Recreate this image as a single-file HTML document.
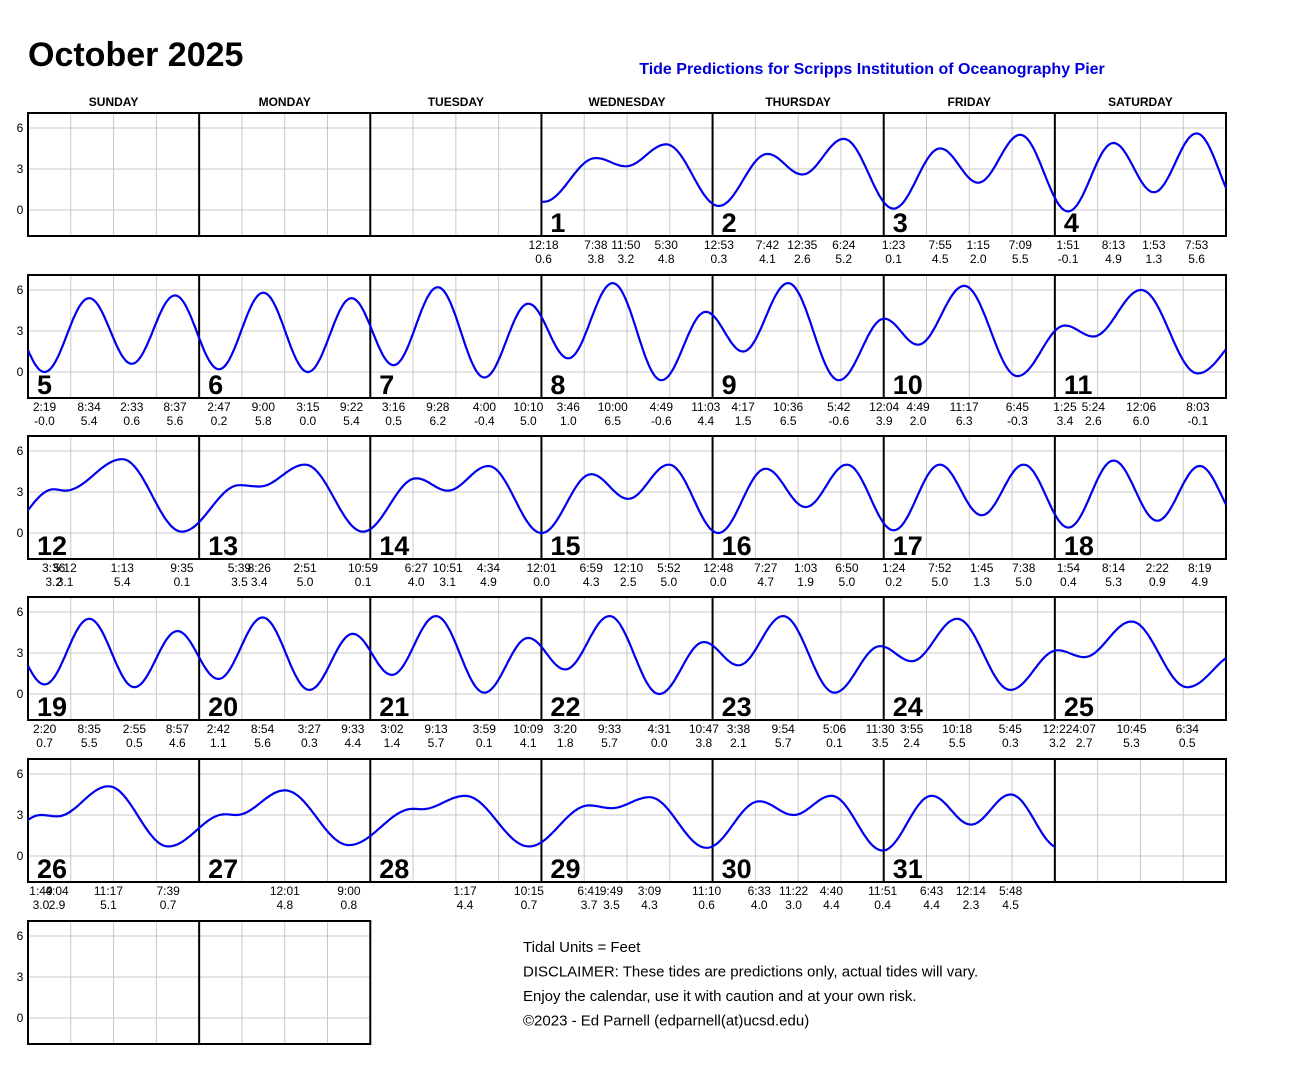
<!DOCTYPE html>
<html><head><meta charset="utf-8">
<style>
body{margin:0;background:#fff;}
svg text{font-family:"Liberation Sans",sans-serif;}
</style></head>
<body>
<svg id="s" width="1300" height="1074" xmlns="http://www.w3.org/2000/svg"></svg>
<script>
const D=[
[1,"12:18",0.3,0.6],[1,"7:38",7.633,3.8],[1,"11:50",11.833,3.2],[1,"5:30",17.5,4.8],
[2,"12:53",0.883,0.3],[2,"7:42",7.7,4.1],[2,"12:35",12.583,2.6],[2,"6:24",18.4,5.2],
[3,"1:23",1.383,0.1],[3,"7:55",7.917,4.5],[3,"1:15",13.25,2.0],[3,"7:09",19.15,5.5],
[4,"1:51",1.85,-0.1],[4,"8:13",8.217,4.9],[4,"1:53",13.883,1.3],[4,"7:53",19.883,5.6],
[5,"2:19",2.317,-0.0,"-0.0"],[5,"8:34",8.567,5.4],[5,"2:33",14.55,0.6],[5,"8:37",20.617,5.6],
[6,"2:47",2.783,0.2],[6,"9:00",9,5.8],[6,"3:15",15.25,0.0],[6,"9:22",21.367,5.4],
[7,"3:16",3.267,0.5],[7,"9:28",9.467,6.2],[7,"4:00",16,-0.4],[7,"10:10",22.167,5.0],
[8,"3:46",3.767,1.0],[8,"10:00",10,6.5],[8,"4:49",16.817,-0.6],[8,"11:03",23.05,4.4],
[9,"4:17",4.283,1.5],[9,"10:36",10.6,6.5],[9,"5:42",17.7,-0.6],
[10,"12:04",0.067,3.9],[10,"4:49",4.817,2.0],[10,"11:17",11.283,6.3],[10,"6:45",18.75,-0.3],
[11,"1:25",1.417,3.4],[11,"5:24",5.4,2.6],[11,"12:06",12.1,6.0],[11,"8:03",20.05,-0.1],
[12,"3:36",3.6,3.2],[12,"5:12",5.2,3.1],[12,"1:13",13.217,5.4],[12,"9:35",21.583,0.1],
[13,"5:39",5.65,3.5],[13,"8:26",8.433,3.4],[13,"2:51",14.85,5.0],[13,"10:59",22.983,0.1],
[14,"6:27",6.45,4.0],[14,"10:51",10.85,3.1],[14,"4:34",16.567,4.9],
[15,"12:01",0.017,0.0],[15,"6:59",6.983,4.3],[15,"12:10",12.167,2.5],[15,"5:52",17.867,5.0],
[16,"12:48",0.8,0.0],[16,"7:27",7.45,4.7],[16,"1:03",13.05,1.9],[16,"6:50",18.833,5.0],
[17,"1:24",1.4,0.2],[17,"7:52",7.867,5.0],[17,"1:45",13.75,1.3],[17,"7:38",19.633,5.0],
[18,"1:54",1.9,0.4],[18,"8:14",8.233,5.3],[18,"2:22",14.367,0.9],[18,"8:19",20.317,4.9],
[19,"2:20",2.333,0.7],[19,"8:35",8.583,5.5],[19,"2:55",14.917,0.5],[19,"8:57",20.95,4.6],
[20,"2:42",2.7,1.1],[20,"8:54",8.9,5.6],[20,"3:27",15.45,0.3],[20,"9:33",21.55,4.4],
[21,"3:02",3.033,1.4],[21,"9:13",9.217,5.7],[21,"3:59",15.983,0.1],[21,"10:09",22.15,4.1],
[22,"3:20",3.333,1.8],[22,"9:33",9.55,5.7],[22,"4:31",16.517,0.0],[22,"10:47",22.783,3.8],
[23,"3:38",3.633,2.1],[23,"9:54",9.9,5.7],[23,"5:06",17.1,0.1],[23,"11:30",23.5,3.5],
[24,"3:55",3.917,2.4],[24,"10:18",10.3,5.5],[24,"5:45",17.75,0.3],
[25,"12:22",0.367,3.2],[25,"4:07",4.117,2.7],[25,"10:45",10.75,5.3],[25,"6:34",18.567,0.5],
[26,"1:49",1.817,3.0],[26,"4:04",4.067,2.9],[26,"11:17",11.283,5.1],[26,"7:39",19.65,0.7],
[27,"",3.6,3.05],[27,"",5.2,3.0],
[27,"12:01",12.017,4.8],[27,"9:00",21,0.8],
[28,"",6.0,3.45],[28,"",7.2,3.42],
[28,"1:17",13.283,4.4],[28,"10:15",22.25,0.7],
[29,"6:41",6.683,3.7],[29,"9:49",9.817,3.5],[29,"3:09",15.15,4.3],[29,"11:10",23.167,0.6],
[30,"6:33",6.55,4.0],[30,"11:22",11.367,3.0],[30,"4:40",16.667,4.4],[30,"11:51",23.85,0.4],
[31,"6:43",6.717,4.4],[31,"12:14",12.233,2.3],[31,"5:48",17.8,4.5]
];
const E=[[-7,4.5]];D.forEach(r=>E.push([(r[0]-1)*24+r[2],r[3]]));E.push([30*24+24.6,0.6]);
function H(T){for(let i=0;i<E.length-1;i++){if(T>=E[i][0]&&T<=E[i+1][0]){const t=(T-E[i][0])/(E[i+1][0]-E[i][0]);return E[i][1]+(E[i+1][1]-E[i][1])*(1-Math.cos(Math.PI*t))/2;}}return 0;}
const X0=28,W=(1226-28)/7,TOPS=[113,275,436,597,759,921],BH=123,SC=13.67;
let s='';
s+='<text x="28" y="66" font-size="34" font-weight="bold">October 2025</text>';
s+='<text x="872" y="74" font-size="16" font-weight="bold" fill="#0000dd" text-anchor="middle">Tide Predictions for Scripps Institution of Oceanography Pier</text>';
["SUNDAY","MONDAY","TUESDAY","WEDNESDAY","THURSDAY","FRIDAY","SATURDAY"].forEach((n,i)=>{s+=`<text x="${X0+W*(i+.5)}" y="106" font-size="12" font-weight="bold" text-anchor="middle">${n}</text>`;});
TOPS.forEach((top,ri)=>{
 const ncol=ri==5?2:7, z=top+97;
 for(let c=0;c<ncol;c++)for(let q=1;q<4;q++){const x=X0+W*c+W*q/4;s+=`<line x1="${x}" y1="${top}" x2="${x}" y2="${top+BH}" stroke="#c8c8c8" stroke-width="1"/>`;}
 [0,3,6].forEach(v=>{const y=z-v*SC;s+=`<line x1="${X0}" y1="${y}" x2="${X0+W*ncol}" y2="${y}" stroke="#c8c8c8" stroke-width="1"/>`;s+=`<text x="20" y="${y+4}" font-size="12" text-anchor="middle">${v}</text>`;});
 for(let c=1;c<ncol;c++){const x=X0+W*c;s+=`<line x1="${x}" y1="${top}" x2="${x}" y2="${top+BH}" stroke="#000" stroke-width="2"/>`;}
 s+=`<rect x="${X0}" y="${top}" width="${W*ncol}" height="${BH}" fill="none" stroke="#000" stroke-width="2"/>`;
});
for(let d=1;d<=31;d++){
 const idx=d+2,r=Math.floor(idx/7),c=idx%7,top=TOPS[r],z=top+97,cx=X0+W*c;
 let p='';
 for(let k=0;k<=120;k++){const h=k/5;const v=H((d-1)*24+h);p+=(k?'L':'M')+(cx+h/24*W).toFixed(1)+' '+(z-v*SC).toFixed(1);}
 s+=`<path d="${p}" fill="none" stroke="#0000ee" stroke-width="2.2"/>`;
 s+=`<text x="${cx+9}" y="${top+119}" font-size="27" font-weight="bold">${d}</text>`;
}
D.forEach(r=>{
 if(!r[1])return;
 const d=r[0],idx=d+2,ro=Math.floor(idx/7),c=idx%7,top=TOPS[ro],x=X0+W*c+r[2]/24*W;
 const hv=r[4]||r[3].toFixed(1);
 s+=`<text x="${x}" y="${top+BH+13}" font-size="12" text-anchor="middle">${r[1]}</text>`;
 s+=`<text x="${x}" y="${top+BH+27}" font-size="12" text-anchor="middle">${hv}</text>`;
});
["Tidal Units = Feet","DISCLAIMER: These tides are predictions only, actual tides will vary.","Enjoy the calendar, use it with caution and at your own risk.","©2023 - Ed Parnell (edparnell(at)ucsd.edu)"].forEach((t,i)=>{s+=`<text x="523" y="${952+i*24.5}" font-size="15">${t}</text>`;});
document.getElementById('s').innerHTML=s;
</script>
</body></html>
